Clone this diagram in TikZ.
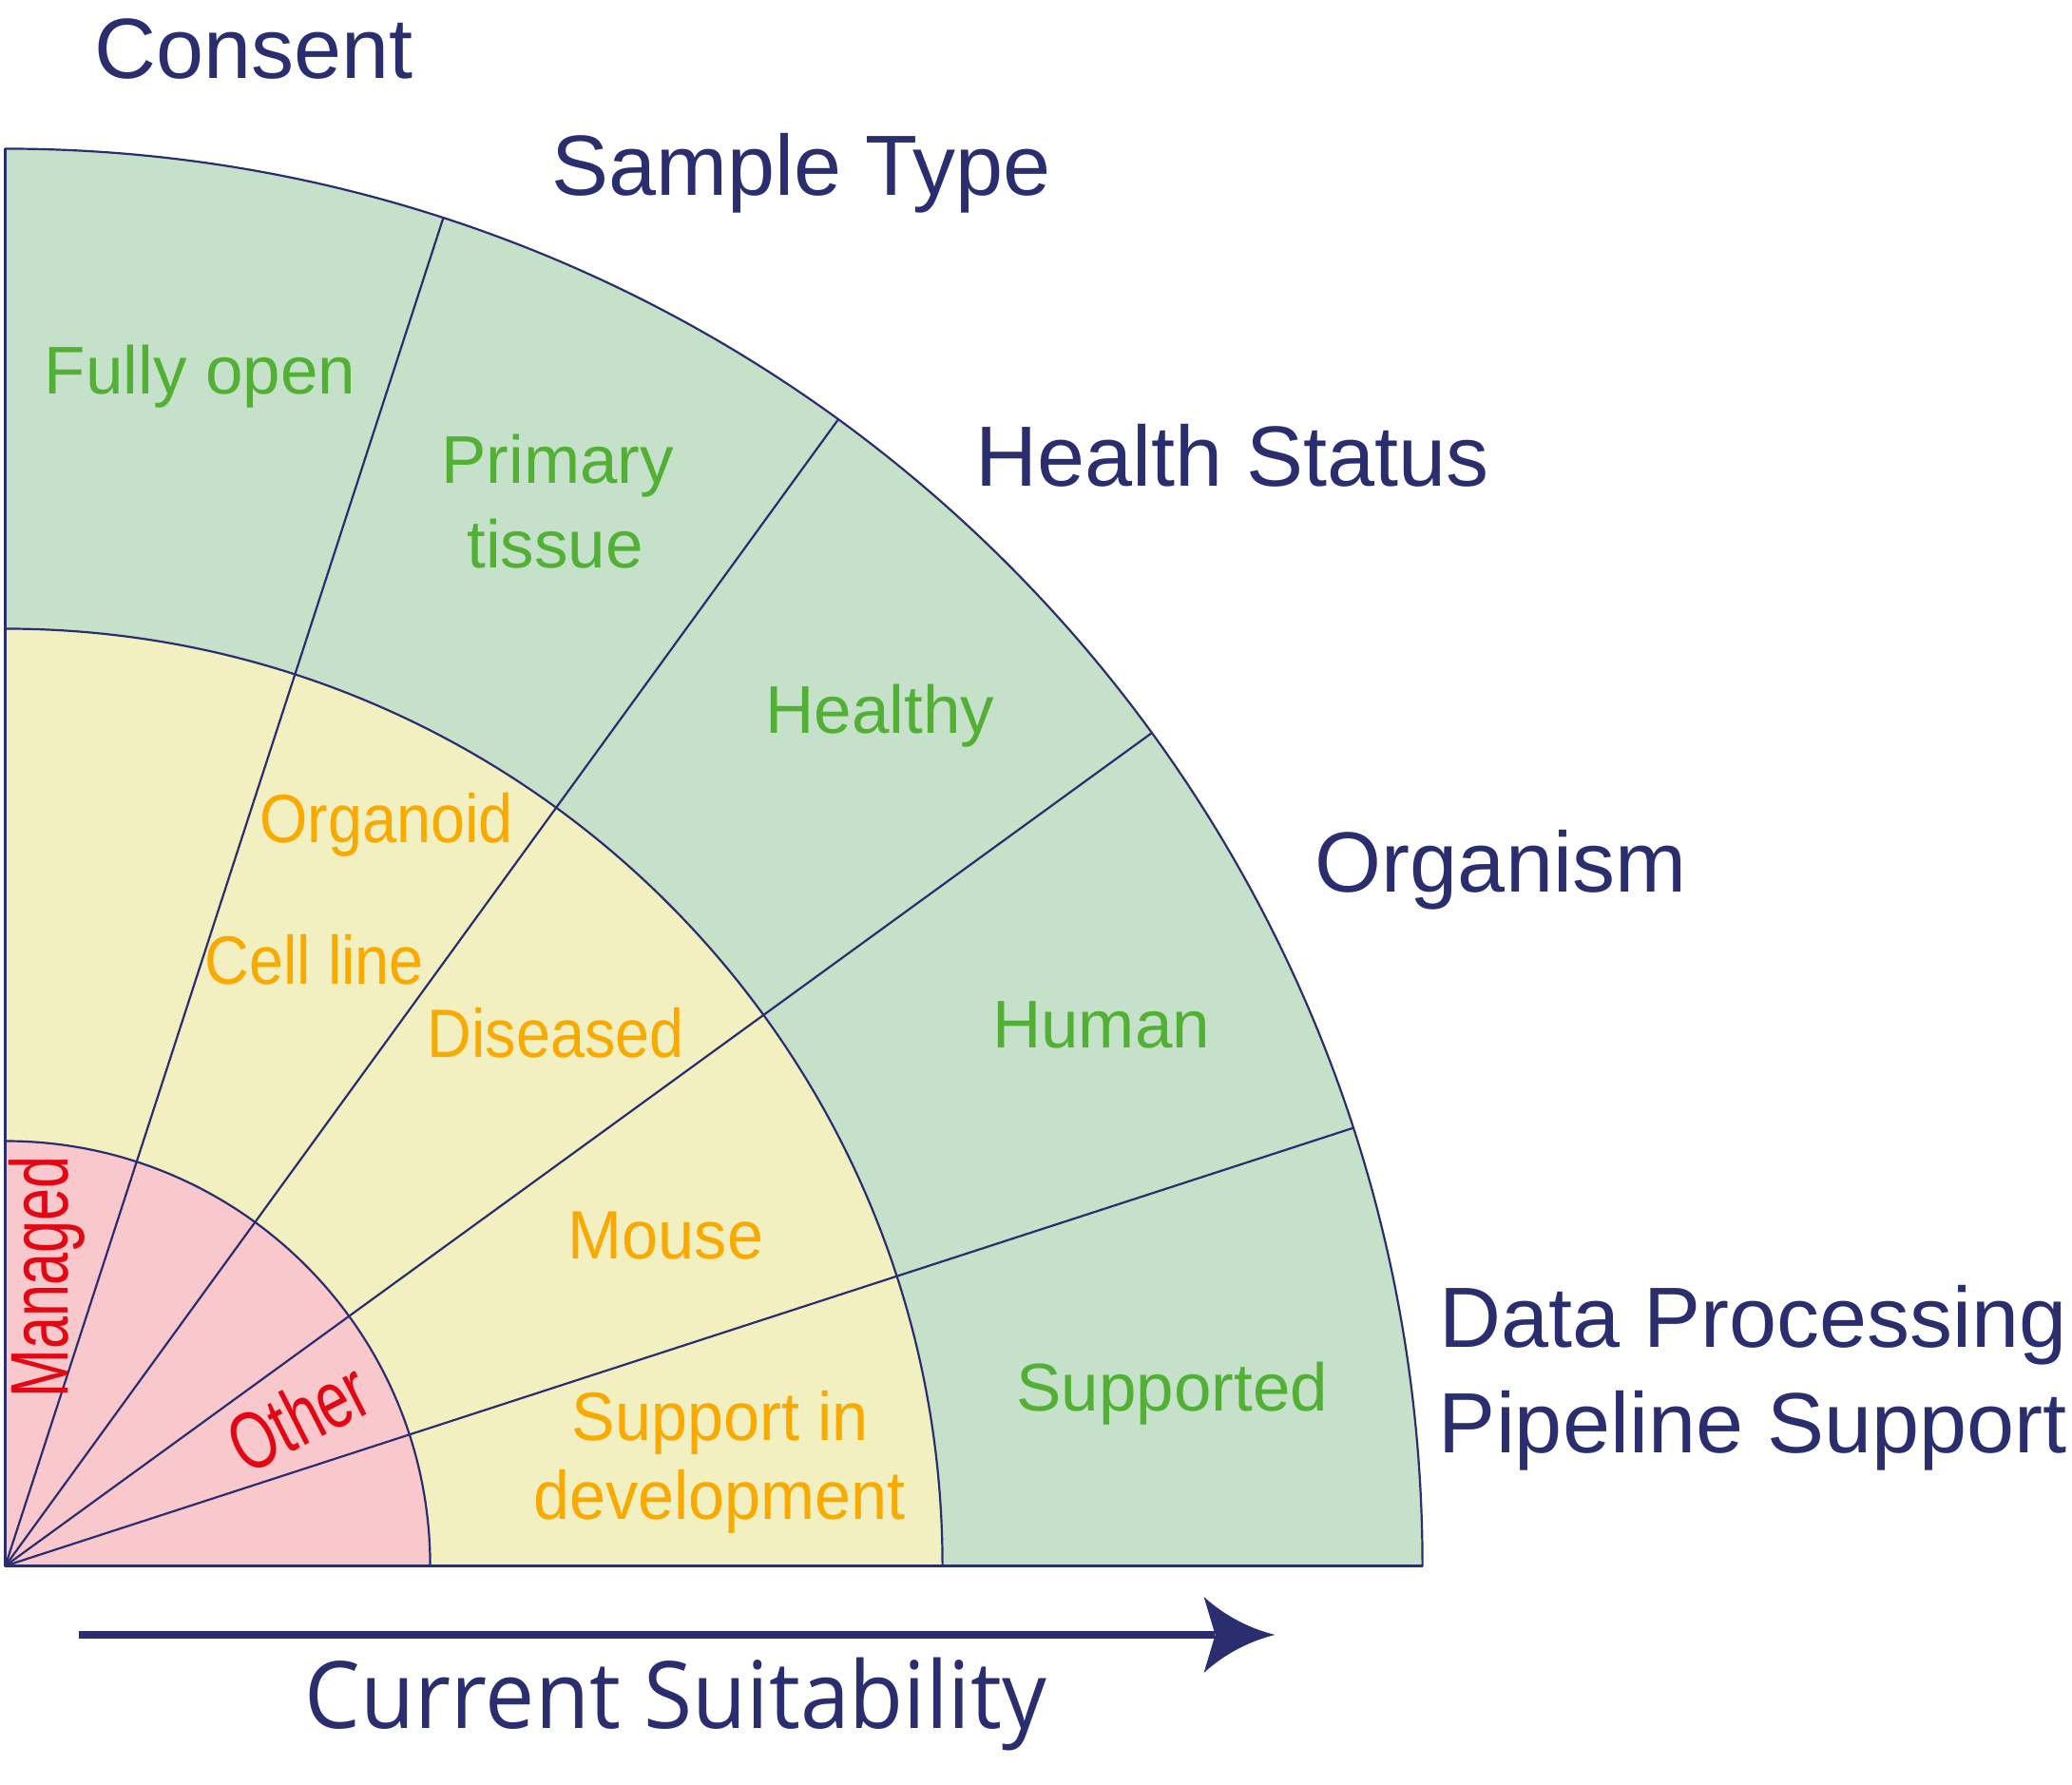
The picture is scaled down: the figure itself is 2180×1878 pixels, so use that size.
\documentclass[tikz,border=0pt]{standalone}
\usepackage{fontspec}
\setmainfont{Liberation Sans}
\newfontfamily\labfont{Liberation Sans}
\newfontfamily\labcond[FakeStretch=0.9]{Liberation Sans}
\newfontfamily\labcondb[FakeStretch=0.95]{Liberation Sans}
\newfontfamily\labnarrow[FakeStretch=0.71]{Liberation Sans}
\newfontfamily\curfont[FakeStretch=0.95]{Open Sans}
\definecolor{edgeblue}{RGB}{42,46,110}
\definecolor{fillgreen}{RGB}{197,225,201}
\definecolor{fillyellow}{RGB}{242,240,193}
\definecolor{fillpink}{RGB}{248,200,205}
\definecolor{txtgreen}{RGB}{82,176,52}
\definecolor{txtorange}{RGB}{248,170,0}
\definecolor{txtred}{RGB}{227,6,19}
\begin{document}
\begin{tikzpicture}[x=1pt,y=1pt,
  cat/.style={text=edgeblue, font=\labfont\fontsize{90}{108}\selectfont, inner sep=0pt, anchor=base},
  good/.style={text=txtgreen, font=\labfont\fontsize{71}{85}\selectfont, inner sep=0pt, anchor=base},
  midlab/.style={text=txtorange, font=\labcond\fontsize{72}{86}\selectfont, inner sep=0pt, anchor=base},
  midlabw/.style={text=txtorange, font=\labcondb\fontsize{72}{86}\selectfont, inner sep=0pt, anchor=base},
  bad/.style={text=txtred, font=\labnarrow\fontsize{86}{100}\selectfont, inner sep=0pt, anchor=base},
  edgeline/.style={draw=edgeblue, line width=2.2pt},
  curlab/.style={text=edgeblue, font=\curfont\fontsize{98}{118}\selectfont, inner sep=0pt, anchor=base}
]
\useasboundingbox (-5.6,-230.5) rectangle (2174.4,1647.5);
% fills
\fill[fillgreen] (0,0) -- (1491pt,0) arc[start angle=0, end angle=90, radius=1491pt] -- cycle;
\fill[fillyellow] (0,0) -- (986pt,0) arc[start angle=0, end angle=90, radius=986pt] -- cycle;
\fill[fillpink] (0,0) -- (447pt,0) arc[start angle=0, end angle=90, radius=447pt] -- cycle;
% arcs
\foreach \r in {447,986,1491}
  \draw[edgeline] (\r pt,0) arc[start angle=0, end angle=90, radius=\r pt];
% radial lines
\foreach \a in {0,18,36,54,72,90}
  \draw[edgeline, line cap=round] (0,0) -- (\a:1491pt);

% category titles
\node[cat] (consent) at (261.4,1564.5) {Consent};
\node[cat] (sample) at (837.4,1441.5) {Sample Type};
\node[cat] (health) at (1291,1136) {Health Status};
\node[cat] (organism) at (1573.4,708.5) {Organism};
\node[cat] (dp1) at (1839.4,229.5) {Data Processing};
\node[cat] (dp2) at (1838.6,118.5) {Pipeline Support};

% green labels
\node[good] (fully) at (205,1233) {Fully open};
\node[good] (prim1) at (581,1138.5) {Primary};
\node[good] (prim2) at (578.4,1049.5) {tissue};
\node[good] (healthy) at (920.4,876) {Healthy};
\node[good] (human) at (1153,545) {Human};
\node[good] (supported) at (1227.6,162.5) {Supported};

% yellow labels
\node[midlab] (organoid) at (401,760.5) {Organoid};
\node[midlab] (cellline) at (325.3,611.7) {Cell line};
\node[midlab] (diseased) at (579,535.3) {Diseased};
\node[midlabw] (mouse) at (695,322.5) {Mouse};
\node[midlabw] (supin1) at (752,132) {Support in};
\node[midlabw] (supin2) at (751.5,48.5) {development};

% red labels
\node[bad, rotate=90] (managed) at (66,304) {Managed};
\node[bad, rotate=27] (other) at (322,130) {Other};

% arrow
\coordinate (arrS) at (77.8,-72.5);
\coordinate (arrE) at (1336,-72.5);
\draw[edgeblue, line width=7.5pt] (arrS) -- ([xshift=-64pt]arrE);
\begin{scope}[shift={(arrE)}]
\fill[edgeblue] (0,0) .. controls (-25,6) and (-52,19) .. (-75,40) -- (-63,0) -- (-75,-40) .. controls (-52,-19) and (-25,-6) .. (0,0) -- cycle;
\end{scope}
\node[curlab] (suit) at (705.5,-171) {Current Suitability};
\end{tikzpicture}
\end{document}
